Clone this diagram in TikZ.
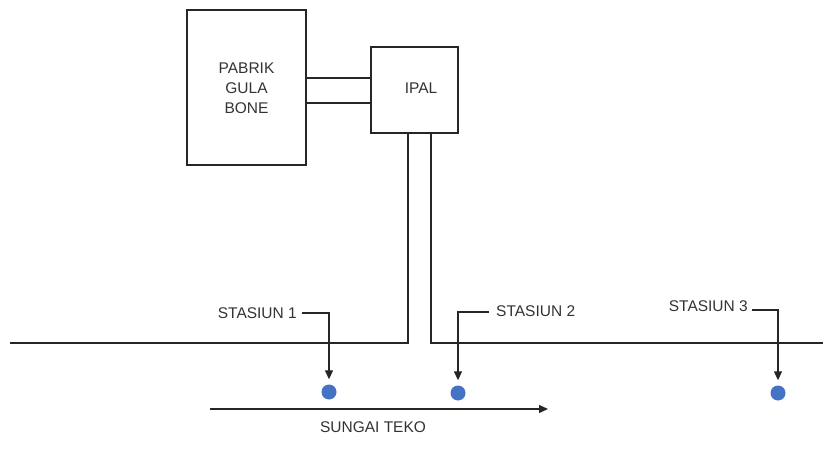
\documentclass[tikz,border=0pt]{standalone}
\usepackage{fontspec}
\setmainfont{Liberation Sans}
\usetikzlibrary{arrows.meta}
\begin{document}
\begin{tikzpicture}[x=1pt,y=-1pt,
  ln/.style={draw=black!85,line width=1.3pt},
  lbl/.style={font=\fontsize{15.5}{20}\selectfont,text=black!80,inner sep=0pt},
  boxs/.style={ln,fill=white,inner sep=0pt},
  dot/.style={circle,inner sep=0pt,minimum size=15pt},
  arr/.style={ln,-{Triangle[length=9pt,width=8pt]}}]
\useasboundingbox (0,0) rectangle (823,452);
\fill[white] (0,0) rectangle (823,452);
\definecolor{dotblue}{HTML}{4472C4}
% boxes
\node[boxs,minimum width=119pt,minimum height=155pt] (pabrik) at (246.5,87.5) {};
\node[lbl,align=center] (pabriktxt) at (246.5,88) {PABRIK\\GULA\\BONE};
\node[boxs,minimum width=87pt,minimum height=86pt] (ipal) at (414.5,90) {};
\node[lbl] (ipaltxt) at (421,88) {IPAL};
% connecting pipes
\coordinate (p1a) at (306,78); \coordinate (p1b) at (371,78);
\coordinate (p2a) at (306,103); \coordinate (p2b) at (371,103);
\draw[ln] (p1a) -- (p1b);
\draw[ln] (p2a) -- (p2b);
% outlets and river banks
\coordinate (o1) at (408,133); \coordinate (o2) at (431,133);
\coordinate (c1) at (408,343); \coordinate (c2) at (431,343);
\coordinate (riverL) at (10,343); \coordinate (riverR) at (823,343);
\draw[ln] (o1) -- (c1) -- (riverL);
\draw[ln] (o2) -- (c2) -- (riverR);
% stations
\node[dot,fill=dotblue] (d1) at (329,392) {};
\node[dot,fill=dotblue] (d2) at (458,393) {};
\node[dot,fill=dotblue] (d3) at (778,393) {};
\node[lbl,anchor=east] (s1) at (297,313) {STASIUN 1};
\node[lbl,anchor=west] (s2) at (496,311) {STASIUN 2};
\node[lbl,anchor=east] (s3) at (748,306) {STASIUN 3};
\coordinate (k1a) at (302,313); \coordinate (k1) at (329,313);
\coordinate (k2a) at (489,312); \coordinate (k2) at (458,312);
\coordinate (k3a) at (752,310); \coordinate (k3) at (778,310);
\draw[arr,shorten >=5pt] (k1a) -- (k1) -- (d1.north);
\draw[arr,shorten >=5pt] (k2a) -- (k2) -- (d2.north);
\draw[arr,shorten >=5pt] (k3a) -- (k3) -- (d3.north);
% river flow
\coordinate (fa) at (210,409); \coordinate (fb) at (548,409);
\draw[arr] (fa) -- (fb);
\node[lbl] (sungai) at (373,427) {SUNGAI TEKO};
\end{tikzpicture}
\end{document}
